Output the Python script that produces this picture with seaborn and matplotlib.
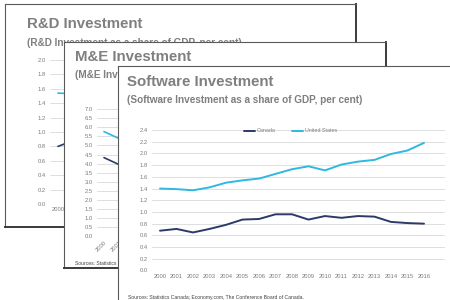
import matplotlib

matplotlib.use("Agg")
import matplotlib.pyplot as plt
import pandas as pd
import seaborn as sns


YEARS = list(range(2000, 2017))

# Software investment (share of GDP, per cent)
SW_CANADA = [0.68, 0.71, 0.65, 0.71, 0.78, 0.87, 0.88, 0.96, 0.96, 0.87, 0.93, 0.90, 0.93, 0.92, 0.83, 0.81, 0.80]
SW_US = [1.40, 1.39, 1.37, 1.42, 1.50, 1.54, 1.57, 1.65, 1.73, 1.78, 1.71, 1.81, 1.86, 1.89, 1.99, 2.05, 2.18]

# M&E and R&D slides are mostly covered, only the first years show
ME_YEARS = [2000, 2001]
ME_CANADA = [4.33, 3.95]
ME_US = [5.76, 5.38]

RD_YEARS = [2000, 2001]
RD_CANADA = [0.80, 0.89]
RD_US = [1.54, 1.53]

COUNTRIES = ["Canada", "United States"]
PALETTE = {"Canada": "#2b3a67", "United States": "#2eb8e2"}

SOURCES = "Sources: Statistics Canada; Economy.com, The Conference Board of Canada."

W, H = 450, 300
GREY = "#7f7f7f"
TICK_GREY = "#7c7c7c"


def box(left, top, right, bottom):
    return [left / W, 1 - bottom / H, (right - left) / W, (bottom - top) / H]


def frame(years, canada, us):
    return pd.DataFrame(
        {
            "year": list(years) * 2,
            "value": list(canada) + list(us),
            "country": ["Canada"] * len(years) + ["United States"] * len(years),
        }
    )


def add_slide(fig, px, z, title, subtitle, text_x, title_y, sub_y):
    ax = fig.add_axes(box(*px), zorder=z)
    ax.set_facecolor("white")
    ax.set_xticks([])
    ax.set_yticks([])
    for side in ["left", "top"]:
        ax.spines[side].set_color("#5a5a5a")
        ax.spines[side].set_linewidth(0.8)
    for side in ["right", "bottom"]:
        ax.spines[side].set_color("#3a3a3a")
        ax.spines[side].set_linewidth(1.4)
    ax.text(text_x / W, 1 - title_y / H, title, transform=fig.transFigure, fontsize=10.8,
            fontweight="bold", color=GREY, va="center", ha="left")
    ax.text(text_x / W, 1 - sub_y / H, subtitle, transform=fig.transFigure, fontsize=7.2,
            fontweight="bold", color=GREY, va="center", ha="left")
    return ax


def add_chart(fig, px, z, data, years, ylim, ystep, xlim, linewidth, rotate=False, legend=False):
    ax = fig.add_axes(box(*px), zorder=z)
    ax.set_facecolor("none")
    sns.lineplot(data=data, x="year", y="value", hue="country", hue_order=COUNTRIES,
                 palette=PALETTE, linewidth=linewidth, ax=ax, legend=legend)
    n = int(round(ylim / ystep))
    ax.set_yticks([i * ystep for i in range(n + 1)])
    ax.set_yticklabels([f"{i * ystep:.1f}" for i in range(n + 1)])
    ax.set_ylim(0, ylim)
    ax.set_xlim(*xlim)
    ax.set_xticks(years)
    ax.set_xticklabels([str(y) for y in years])
    ax.grid(axis="y", color="#d9d9d9", linewidth=0.6)
    ax.grid(axis="x", visible=False)
    ax.set_axisbelow(True)
    sns.despine(ax=ax, left=True, bottom=True)
    ax.set_xlabel("")
    ax.set_ylabel("")
    ax.tick_params(axis="both", length=0, labelsize=4.2, labelcolor=TICK_GREY)
    ax.tick_params(axis="y", pad=3.2)
    ax.tick_params(axis="x", pad=2.5)
    if rotate:
        for lab in ax.get_xticklabels():
            lab.set_rotation(45)
            lab.set_ha("right")
            lab.set_rotation_mode("anchor")
    return ax


sns.set_theme(style="white")
plt.rcParams["font.family"] = ["Liberation Sans", "DejaVu Sans"]

fig = plt.figure(figsize=(4.5, 3), dpi=100)
fig.patch.set_facecolor("white")

# slide 1: R&D
add_slide(fig, (5, 4, 356, 227), 10, "R&D Investment",
          "(R&D Investment as a share of GDP, per cent)", 27, 24, 43)
add_chart(fig, (50, 60, 340, 204), 11, frame(RD_YEARS, RD_CANADA, RD_US), RD_YEARS[:1],
          2.0, 0.2, (2000 - 8 / 17, 2000 + 282 / 17), 1.2)

# slide 2: M&E
me_slide = add_slide(fig, (64, 42, 386, 268), 20, "M&E Investment",
                     "(M&E Investment as a share of GDP, per cent)", 75, 57, 75)
me_slide.text(75 / W, 1 - 263 / H, SOURCES, transform=fig.transFigure, fontsize=3.6,
              color="#404040", va="center", ha="left")
add_chart(fig, (97, 109, 380, 236.5), 21, frame(ME_YEARS, ME_CANADA, ME_US), ME_YEARS,
          7.0, 0.5, (2000 - 7 / 15, 2000 + 276 / 15), 1.2, rotate=True)

# slide 3: Software
sw_slide = add_slide(fig, (118, 66, 470, 320), 30, "Software Investment",
                     "(Software Investment as a share of GDP, per cent)", 127, 82, 100)
sw_slide.text(128 / W, 1 - 297 / H, SOURCES, transform=fig.transFigure, fontsize=3.6,
              color="#404040", va="center", ha="left")
sw_ax = add_chart(fig, (152, 130, 445, 270.5), 31, frame(YEARS, SW_CANADA, SW_US), YEARS,
                  2.4, 0.2, (2000 - 8 / 16.5, 2016 + 21 / 16.5), 1.4, legend=True)
sns.move_legend(sw_ax, "center", bbox_to_anchor=(0.474, 0.993), ncol=2, frameon=False,
                title=None, fontsize=3.9, handlelength=2.0, handletextpad=0.4,
                columnspacing=3.0, labelcolor=GREY)

fig.savefig("out.png", dpi=100)
